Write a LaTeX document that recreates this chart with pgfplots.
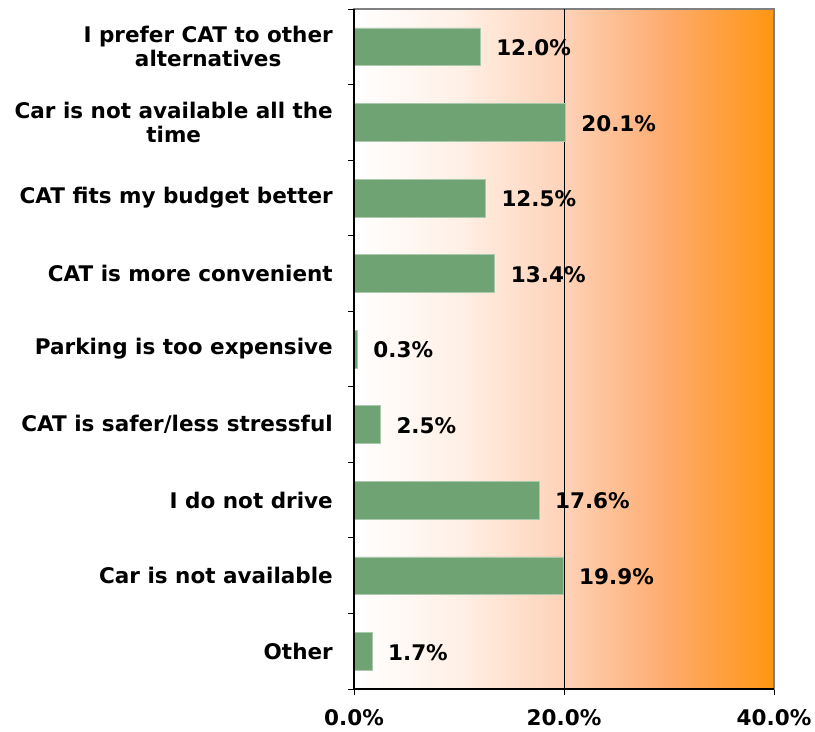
\documentclass[border=0pt]{standalone}
\usepackage{pgfplots}
\pgfplotsset{compat=1.18}
\usepackage{fontspec}
\setmainfont{DejaVu Sans}
\definecolor{barg}{RGB}{111,163,116}
\definecolor{peachA}{RGB}{255,240,230}
\definecolor{peach}{RGB}{254,210,184}
\definecolor{orngA}{RGB}{254,170,108}
\definecolor{orng}{RGB}{255,150,18}
\pgfdeclarehorizontalshading{bgshade}{100bp}{color(0bp)=(white); color(25bp)=(white); color(37.5bp)=(peachA); color(50bp)=(peach); color(62.5bp)=(orngA); color(75bp)=(orng); color(100bp)=(orng)}
\newcommand{\lblfont}{\fontsize{21.6}{24}\selectfont\bfseries}
\begin{document}
\begin{tikzpicture}
\begin{axis}[name=ax, scale only axis, width=420bp, height=680bp,
  xbar, bar width=0.5, xmin=0, xmax=40, ymin=-0.5, ymax=8.5, y dir=reverse,
  axis background/.style={shading=bgshade},
  axis line style={draw=gray, line width=1.5bp},
  xtick={0,20,40}, xticklabels={0.0\%,20.0\%,40.0\%},
  ytick={-0.5,0.5,...,8.5}, yticklabels={},
  ytick pos=left, xtick pos=bottom,
  extra y ticks={0,1,2,3,4,5,6,7,8},
  extra y tick labels={{I prefer CAT to other\\alternatives},{Car is not available all the\\time},{CAT fits my budget better},{CAT is more convenient},{Parking is too expensive},{CAT is safer/less stressful},{I do not drive},{Car is not available},{Other}},
  extra y tick style={major tick length=0pt},
  tick align=outside, major tick length=6bp,
  tick style={black, line width=1bp},
  every tick label/.append style={font=\lblfont},
  yticklabel style={align=center, inner sep=0pt, xshift=-21bp},
  xticklabel style={inner sep=0pt, yshift=-14bp},
  point meta=x,
  nodes near coords={\pgfmathprintnumber[fixed,fixed zerofill,precision=1,assume math mode=true]{\pgfplotspointmeta}\%},
  every node near coord/.append style={font=\lblfont, anchor=west, inner sep=0pt, xshift=16bp, yshift=-1bp, black},
  clip=false,
]
\draw[black, line width=0.8bp] (axis cs:20,-0.5) -- (axis cs:20,8.5);
\addplot[fill=barg, draw=barg!60!white, line width=0.5bp] coordinates {
  (12.0,0) (20.1,1) (12.5,2) (13.4,3) (0.3,4) (2.5,5) (17.6,6) (19.9,7) (1.7,8)};
\end{axis}
\draw[black, line width=1.5bp] (ax.north west) -- (ax.south west) -- (ax.south east);
\path ([shift={(-354bp,9bp)}]ax.north west) rectangle ([shift={(41bp,-43bp)}]ax.south east);
\end{tikzpicture}
\end{document}
